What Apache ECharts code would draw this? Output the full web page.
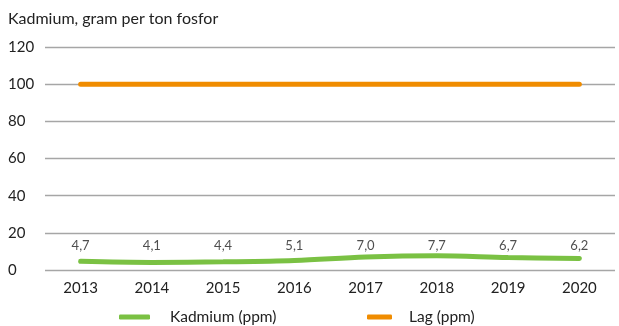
<!DOCTYPE html>
<html>
<head>
<meta charset="utf-8">
<script src="https://cdn.jsdelivr.net/npm/echarts@6/dist/echarts.min.js"></script>
<style>
  html, body { margin: 0; padding: 0; background: #fff; }
  #chart { width: 619px; height: 326px; }
</style>
</head>
<body>
<div id="chart"></div>
<script>
// Cadmium content in phosphorus fertiliser, grams per tonne of phosphorus
const years = ['2013', '2014', '2015', '2016', '2017', '2018', '2019', '2020'];
const kadmium = [4.7, 4.1, 4.4, 5.1, 7.0, 7.7, 6.7, 6.2];
const lag = [100, 100, 100, 100, 100, 100, 100, 100];
const yTicks = [0, 20, 40, 60, 80, 100, 120];

// value labels sit on one common row just below the 20 gridline
const labelRow = 13;

const font = 'Lato, "Noto Sans", sans-serif';
const chart = echarts.init(document.getElementById('chart'));

chart.setOption({
  animation: false,
  textStyle: { fontFamily: font },
  title: {
    text: 'Kadmium, gram per ton fosfor',
    left: 3,
    top: 6,
    textStyle: { fontSize: 16, fontWeight: 'normal', color: '#222', fontFamily: font }
  },
  grid: { left: 45, right: 4, top: 47, bottom: 56 },
  xAxis: {
    type: 'category',
    data: years,
    axisLine: { show: false },
    axisTick: { show: false },
    axisLabel: { color: '#222', fontSize: 15, margin: 11, fontFamily: font }
  },
  yAxis: {
    type: 'value',
    min: yTicks[0],
    max: yTicks[yTicks.length - 1],
    interval: 20,
    axisLine: { show: false },
    axisTick: { show: false },
    axisLabel: { color: '#222', fontSize: 15, margin: 37, align: 'left', fontFamily: font },
    splitLine: { lineStyle: { color: '#a6a6a6', width: 1.3 } }
  },
  legend: [
    {
      bottom: -4,
      left: 114,
      itemWidth: 31,
      itemHeight: 5,
      icon: 'roundRect',
      textStyle: { fontSize: 15.5, color: '#222', padding: [0, 0, 0, 15], fontFamily: font },
      data: ['Kadmium (ppm)']
    },
    {
      bottom: -4,
      left: 362,
      itemWidth: 25,
      itemHeight: 5,
      icon: 'roundRect',
      textStyle: { fontSize: 15.5, color: '#222', padding: [0, 0, 0, 12], fontFamily: font },
      data: ['Lag (ppm)']
    }
  ],
  series: [
    {
      name: 'Kadmium (ppm)',
      type: 'line',
      data: kadmium,
      smooth: 0.35,
      showSymbol: false,
      symbol: 'none',
      lineStyle: { color: '#7ac143', width: 5, cap: 'round' },
      itemStyle: { color: '#7ac143' }
    },
    {
      name: 'Lag (ppm)',
      type: 'line',
      data: lag,
      showSymbol: false,
      symbol: 'none',
      lineStyle: { color: '#f08c00', width: 5, cap: 'round' },
      itemStyle: { color: '#f08c00' }
    },
    {
      // value labels for the cadmium series
      type: 'scatter',
      silent: true,
      symbolSize: 0,
      data: kadmium.map(v => ({ value: labelRow, kadmium: v })),
      label: {
        show: true,
        position: 'inside',
        color: '#222',
        fontSize: 13,
        fontFamily: font,
        formatter: p => p.data.kadmium.toFixed(1).replace('.', ',')
      }
    }
  ]
});
</script>
</body>
</html>
